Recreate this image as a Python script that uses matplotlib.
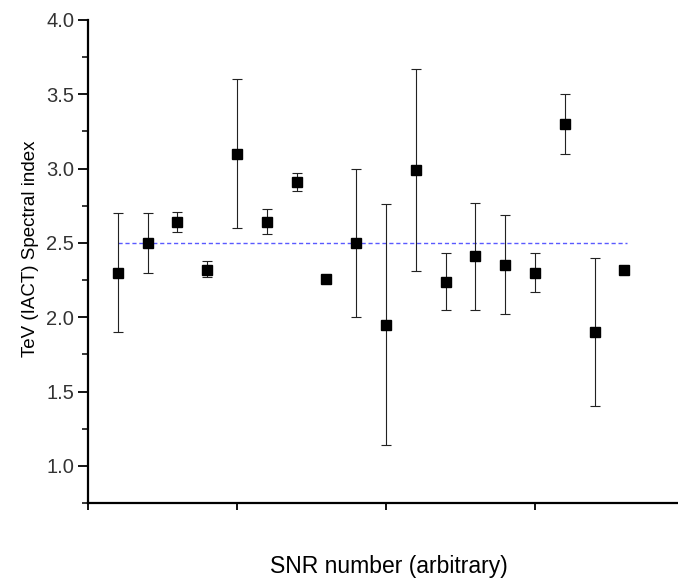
import numpy as np
import matplotlib
matplotlib.use('Agg')
import matplotlib.pyplot as plt
from matplotlib.ticker import MultipleLocator, NullFormatter

plt.rcParams['font.family'] = ['Liberation Sans', 'DejaVu Sans']

# SNR 编号与谱指数
snr = [1, 2, 3, 4, 5, 6, 7, 8, 9, 10, 11, 12, 13, 14, 15, 16, 17, 18]
index = [2.30, 2.50, 2.64, 2.32, 3.10, 2.64, 2.91, 2.26, 2.50,
         1.95, 2.99, 2.24, 2.41, 2.35, 2.30, 3.30, 1.90, 2.32]
err_hi = [2.70, 2.70, 2.71, 2.38, 3.60, 2.73, 2.97, 2.26, 3.00,
          2.76, 3.67, 2.43, 2.77, 2.69, 2.43, 3.50, 2.40, 2.32]
err_lo = [1.90, 2.30, 2.57, 2.27, 2.60, 2.56, 2.85, 2.26, 2.00,
          1.14, 2.31, 2.05, 2.05, 2.02, 2.17, 3.10, 1.40, 2.32]
mean_index = 2.5

idx = np.array(index)
yerr = [idx - np.array(err_lo), np.array(err_hi) - idx]

fig = plt.figure(figsize=(6.78, 5.81), dpi=100)
ax = fig.add_axes([0.1298, 0.1343, 0.8702, 0.8313])

ax.plot([snr[0], snr[-1] + 0.1], [mean_index, mean_index], linestyle=(0, (3, 2)),
        color='#5a5aff', linewidth=1.0, zorder=1)
ax.errorbar(snr, index, yerr=yerr, fmt='s', color='black', markersize=7.5,
            ecolor='#222222', elinewidth=0.8, capsize=3.5, capthick=0.8, zorder=2)

ax.set_xlim(0, 19.8)
ax.set_ylim(0.75, 4.0)
ax.yaxis.set_minor_locator(MultipleLocator(0.25))
ax.set_yticks([1.0, 1.5, 2.0, 2.5, 3.0, 3.5, 4.0])
ax.xaxis.set_major_locator(MultipleLocator(5))
ax.xaxis.set_major_formatter(NullFormatter())

for s in ['top', 'right']:
    ax.spines[s].set_visible(False)
for s in ['left', 'bottom']:
    ax.spines[s].set_linewidth(1.6)

ax.tick_params(axis='y', which='major', direction='out', length=7, width=1.3,
               labelsize=14.5, labelcolor='#333333', pad=3)
ax.tick_params(axis='y', which='minor', direction='out', length=4, width=1.1)
ax.tick_params(axis='x', which='major', direction='out', length=5, width=1.3)

ax.set_ylabel('TeV (IACT) Spectral index', fontsize=13.5)
ax.set_xlabel('SNR number (arbitrary)', fontsize=16.5)
ax.yaxis.set_label_coords(-0.083, 0.527)
ax.xaxis.set_label_coords(0.51, -0.108)

fig.savefig('out.png', dpi=100)
